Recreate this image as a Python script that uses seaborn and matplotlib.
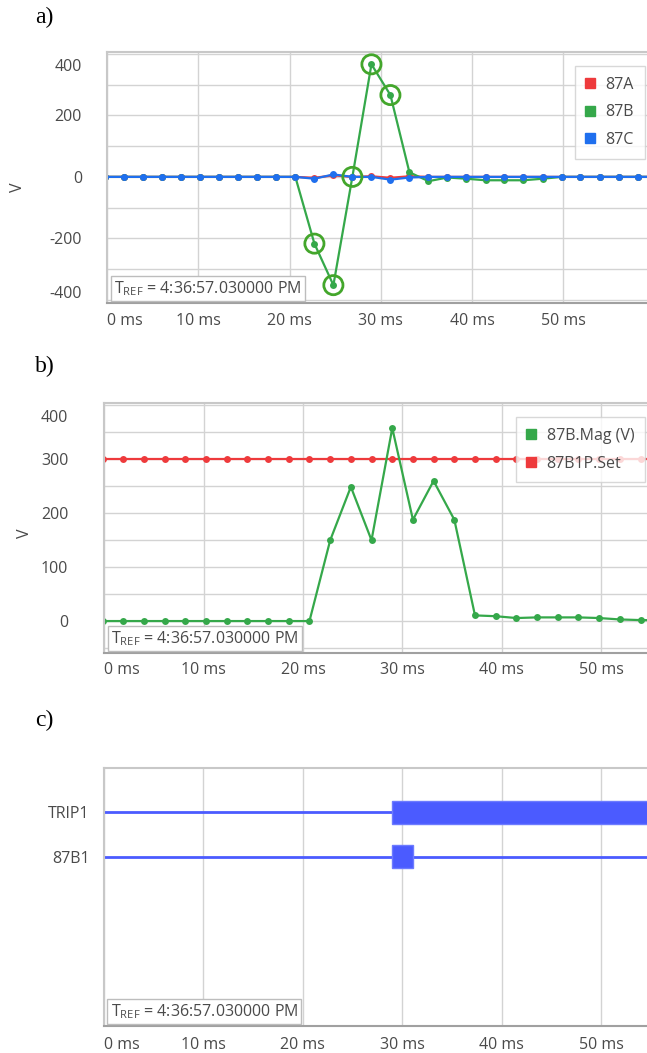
import numpy as np
import pandas as pd
import matplotlib
matplotlib.use("Agg")
import matplotlib.pyplot as plt
import matplotlib.transforms as mtransforms
from matplotlib.lines import Line2D
import seaborn as sns

# ---------------- data ----------------
time_ms = [-0.19, 1.89, 3.98, 6.06, 8.14, 10.23, 12.31, 14.39, 16.48, 18.56,
           20.64, 22.73, 24.81, 26.89, 28.98, 31.06, 33.14, 35.23, 37.31, 39.39,
           41.48, 43.56, 45.64, 47.73, 49.81, 51.89, 53.98, 56.06, 58.14, 60.23]

v_87A = [0, 0, 0, 0, 0, 0, 0, 0, 0, 0,
         0, -3, 5, 0, 2, -3, 2, 0, 0, 0,
         0, 0, 0, 0, 0, 0, 0, 0, 0, 0]
v_87B = [0, 0, 0, 0, 0, 0, 0, 0, 0, 0,
         0, -217, -352, 0, 366, 266, 15, -14, -2, -6,
         -11, -11, -11, -6, 0, 0, 0, 0, 0, 0]
v_87C = [0, 0, 0, 0, 0, 0, 0, 0, 0, 0,
         0, -6, 8, 0, 0, -9, -2, 0, 0, 0,
         0, 0, 0, 0, 0, 0, 0, 0, 0, 0]
circled_t = [22.73, 24.81, 26.89, 28.98, 31.06]
circled_v = [-217, -352, 0, 366, 266]

mag_87B = [0, 0, 0, 0, 0, 0, 0, 0, 0, 0,
           0, 150, 249, 150, 358, 188, 260, 188, 10.5, 9,
           5.6, 6.8, 6.8, 6.8, 5.6, 3, 1.8, 1.5, 1.5, 1.5]
set_87B1P = [300] * 30

digital_names = ["TRIP1", "87B1"]
assert_start = [28.98, 28.98]
assert_end = [62.0, 31.06]

x_ticks = [0, 10, 20, 30, 40, 50]
x_tick_labels = ["0 ms", "10 ms", "20 ms", "30 ms", "40 ms", "50 ms"]
tref_text = "T$_{\\mathregular{REF}}$ = 4:36:57.030000 PM"

# ---------------- style ----------------
sns.set_theme(style="white")
plt.rcParams["font.family"] = ["Open Sans", "DejaVu Sans"]
plt.rcParams["mathtext.fontset"] = "custom"
plt.rcParams["mathtext.rm"] = "Open Sans"
plt.rcParams["axes.unicode_minus"] = False

RED = "#ee3a3c"
GREEN = "#35a84a"
BLUE = "#1f6fee"
CIRC = "#43a62b"
DIG = "#4b5bff"
GRID = "#d3d3d3"
TXT = "#4a4a4a"
FS = 11.5

W, H = 647, 1053
fig = plt.figure(figsize=(W / 100, H / 100), dpi=100)


def px_axes(left, top, bottom):
    return fig.add_axes([left / W, 1 - bottom / H, (W - left) / W, (bottom - top) / H])


ax_a = px_axes(107, 52, 303)
ax_b = px_axes(104.5, 403.3, 652.7)
ax_c = px_axes(103.6, 767.7, 1026)


def style_axes(ax, ypad, xpad):
    for s in ["top", "left"]:
        ax.spines[s].set_color("#c8c8c8")
        ax.spines[s].set_linewidth(1.5)
    ax.spines["bottom"].set_color("#a0a0a0")
    ax.spines["bottom"].set_linewidth(1.5)
    ax.spines["right"].set_visible(False)
    ax.set_xticks(x_ticks)
    ax.set_xticklabels(x_tick_labels)
    ax.tick_params(axis="both", which="both", length=0, labelsize=FS, labelcolor=TXT)
    ax.tick_params(axis="y", pad=ypad)
    ax.tick_params(axis="x", pad=xpad)
    ax.get_xticklabels()[0].set_horizontalalignment("left")
    ax.set_xlabel("")
    ax.set_ylabel("")


def shift_label(lbl, dy_px):
    off = mtransforms.ScaledTranslation(0, dy_px / 100, fig.dpi_scale_trans)
    lbl.set_transform(lbl.get_transform() + off)


def add_tref(ax):
    ax.annotate(tref_text, xy=(0, 0), xycoords="axes fraction",
                xytext=(7, 5), textcoords="offset pixels", ha="left", va="bottom",
                fontsize=FS, color=TXT, zorder=10,
                bbox=dict(boxstyle="square,pad=0.2", fc="white", ec="#bdbdbd", lw=1))


def legend(ax, labels, colors):
    handles = [Line2D([], [], marker="s", ls="", color=c, markersize=7) for c in colors]
    lg = ax.legend(handles, labels, loc="upper right", bbox_to_anchor=(1 - 2 / 540, 1 - 14 / 251),
                   fontsize=FS, frameon=True, fancybox=False, framealpha=0.8,
                   edgecolor="#cfcfcf", handlelength=0.5, handletextpad=0.75,
                   labelspacing=0.72, borderpad=0.68, borderaxespad=0)
    lg.get_frame().set_linewidth(1)
    for t in lg.get_texts():
        t.set_color(TXT)
    lg.set_zorder(20)


# ---------------- panel a ----------------
df_a = pd.DataFrame({"t": time_ms, "87A": v_87A, "87B": v_87B, "87C": v_87C})
for col, c in [("87A", RED), ("87B", GREEN), ("87C", BLUE)]:
    sns.lineplot(data=df_a, x="t", y=col, ax=ax_a, color=c, marker="o", markersize=5,
                 markeredgewidth=0, linewidth=1.6, estimator=None, sort=False, legend=False)
sns.scatterplot(x=circled_t, y=circled_v, ax=ax_a, marker="o", s=190,
                facecolor="none", edgecolor=CIRC, linewidth=2, zorder=6, legend=False)
ax_a.set_xlim(0, 540 / 9.125)
ax_a.set_ylim(-410, 406)
ax_a.set_yticks([-400, -200, 0, 200, 400])
ax_a.set_yticks(list(range(-400, 401, 100)), minor=True)
ax_a.grid(True, which="both", color=GRID, linewidth=1)
ax_a.set_axisbelow(True)
style_axes(ax_a, ypad=18, xpad=7)
ylab = ax_a.get_yticklabels()
shift_label(ylab[-1], -11)
shift_label(ylab[0], 8)
legend(ax_a, ["87A", "87B", "87C"], [RED, GREEN, BLUE])
add_tref(ax_a)

# ---------------- panel b ----------------
df_b = pd.DataFrame({"t": time_ms, "mag": mag_87B, "set": set_87B1P})
sns.lineplot(data=df_b, x="t", y="set", ax=ax_b, color=RED, marker="o", markersize=5,
             markeredgewidth=0, linewidth=1.6, estimator=None, sort=False, legend=False)
sns.lineplot(data=df_b, x="t", y="mag", ax=ax_b, color=GREEN, marker="o", markersize=5,
             markeredgewidth=0, linewidth=1.6, estimator=None, sort=False, legend=False)
ax_b.set_xlim(0, 542.5 / 9.93)
ax_b.set_ylim(-58.7, 404)
ax_b.set_yticks([0, 100, 200, 300, 400])
ax_b.set_yticks([-50, 50, 150, 250, 350], minor=True)
ax_b.grid(True, which="both", color=GRID, linewidth=1)
ax_b.set_axisbelow(True)
style_axes(ax_b, ypad=26, xpad=7)
shift_label(ax_b.get_yticklabels()[-1], -11)
legend(ax_b, ["87B.Mag (V)", "87B1P.Set"], [GREEN, RED])
add_tref(ax_b)

# ---------------- panel c ----------------
xmax_c = 543.4 / 9.95
ypos = list(range(len(digital_names)))
for i in ypos:
    ax_c.axhline(i, color=DIG, linewidth=2, zorder=2)
ax_c.barh(ypos, np.array(assert_end) - np.array(assert_start), left=assert_start,
          height=0.52, color=DIG, edgecolor="#6d7bff", linewidth=1, zorder=3)
ax_c.set_xlim(0, xmax_c)
ax_c.set_ylim(4.8, -1)
ax_c.set_yticks(ypos)
ax_c.set_yticklabels(digital_names)
ax_c.grid(True, axis="x", color=GRID, linewidth=1)
ax_c.grid(False, axis="y")
ax_c.set_axisbelow(True)
style_axes(ax_c, ypad=10, xpad=8)
add_tref(ax_c)

# ---------------- labels ----------------
for ylab_y in [187, 533]:
    fig.text(18 / W if ylab_y == 187 else 25 / W, 1 - ylab_y / H, "V", rotation=90,
             ha="center", va="center", fontsize=FS, color=TXT)
for lbl, (x, y) in zip(["a)", "b)", "c)"], [(35, 17), (35, 366), (35, 720)]):
    fig.text(x / W, 1 - y / H, lbl, ha="left", va="center", fontsize=17,
             family=["Liberation Serif", "DejaVu Serif"], color="black")

fig.savefig("out.png", dpi=100)
